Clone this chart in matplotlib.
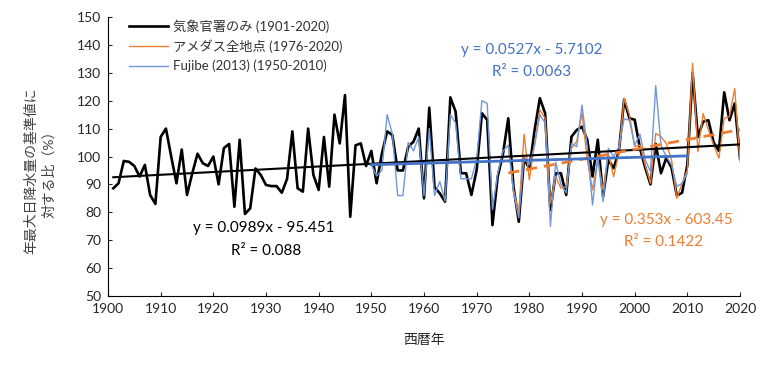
import numpy as np
import matplotlib
matplotlib.use("Agg")
import matplotlib.pyplot as plt

plt.rcParams['font.family'] = ['Lato', 'Noto Sans CJK JP', 'DejaVu Sans']

# 気象官署のみ (1901-2020)
years_jma = np.arange(1901, 2021)
jma = [88.6, 90.4, 98.4, 98.1, 96.6, 92.8, 97, 86.2, 83, 107,
       110, 100, 90.4, 102.5, 86.2, 94, 101, 97.6, 96.6, 100,
       90, 103, 104.5, 82, 106, 79.4, 81.4, 95.7, 93.4, 89.8,
       89.4, 89.4, 87, 92, 109, 88.6, 87.4, 110, 93.4, 88,
       107, 89.2, 115, 104.7, 122, 78.4, 104, 104.7, 96.6, 102,
       90.4, 101, 109, 107.7, 95, 95, 103.5, 105.3, 110, 85,
       117.5, 89, 86.8, 83.8, 121.2, 116.1, 94, 94, 86.2, 95.2,
       115.5, 113.1, 75.4, 92.8, 101, 113.7, 89, 76.6, 99.4, 95.5,
       109.5, 120.9, 115.5, 80.8, 94, 94, 86.2, 107.1, 109.5, 110.7,
       106, 92.8, 106, 85.6, 98.8, 95.8, 101.7, 120.4, 113.7, 113.2,
       103, 96, 90, 104.5, 94, 99.5, 96, 86, 87, 97,
       130, 107, 112.5, 113, 105, 102, 123, 113, 119, 99.4]

# アメダス全地点 (1976-2020)
years_amedas = np.arange(1976, 2021)
amedas = [104, 88, 80, 108, 91.6, 104.7, 116.7, 113.7, 83.2, 92.8,
          88.6, 89.2, 103, 105.4, 115.5, 98.8, 88, 98.8, 88, 101.1,
          92.8, 101.1, 120.9, 115, 103.6, 104.1, 96.9, 90.4, 108.3, 107.1,
          104.7, 98.8, 85, 90.4, 95.2, 133.4, 101.7, 115.4, 109.5, 104.1,
          99.4, 113.7, 114.3, 124.4, 98.2]

# Fujibe (2013) (1950-2010)
years_fujibe = np.arange(1950, 2011)
fujibe = [97, 93, 95, 115, 108, 86, 86, 105, 102, 107,
          86, 110, 86, 91, 84, 115, 112, 92, 92, 92,
          99, 120, 119, 81, 94, 102, 104, 87, 78, 100,
          97, 104, 115, 112, 75, 98, 90, 87, 104.7, 103.5,
          118.4, 103.5, 82.6, 99.9, 83.8, 102.9, 99.9, 103.5, 113.5, 113,
          104, 108, 98.8, 94.6, 125.4, 104, 100, 97, 89.2, 90.4,
          94]

# trend line coefficients (slope, intercept) as shown on the chart
trend_jma = (0.0989, -95.451)
trend_amedas = (0.353, -603.45)
trend_fujibe = (0.0527, -5.7102)

c_black = '#000000'
c_orange = '#ED7D31'
c_blue = '#4472C4'
c_blue_light = '#6F97DA'

fig = plt.figure(figsize=(7.68, 3.67), dpi=100)
ax = fig.add_axes([108 / 768, 1 - 296 / 367, 632 / 768, 279 / 367])

ax.plot(years_jma, jma, color=c_black, lw=1.9, label='気象官署のみ (1901-2020)', zorder=3)
ax.plot(years_amedas, amedas, color=c_orange, lw=1.0, label='アメダス全地点 (1976-2020)', zorder=4)
ax.plot(years_fujibe, fujibe, color=c_blue_light, lw=1.0, label='Fujibe (2013) (1950-2010)', zorder=5)


def trend(x, coef):
    return coef[0] * np.asarray(x) + coef[1]


xj = [years_jma[0], years_jma[-1]]
ax.plot(xj, trend(xj, trend_jma), color=c_black, lw=1.5, zorder=6)
xa = [years_amedas[0], years_amedas[-1]]
ax.plot(xa, trend(xa, trend_amedas), color=c_orange, lw=2.0, ls=(0, (4, 2.5)), zorder=6)
xf = [years_fujibe[0], years_fujibe[-1]]
ax.plot(xf, trend(xf, trend_fujibe), color=c_blue, lw=2.0, zorder=6)

ax.set_xlim(1900, 2020)
ax.set_ylim(50, 150)
ax.set_xticks(np.arange(1900, 2021, 10))
ax.set_yticks(np.arange(50, 151, 10))
ax.tick_params(direction='in', length=3, labelsize=10, colors='#262626', pad=5)
ax.spines['top'].set_visible(False)
ax.spines['right'].set_visible(False)
ax.spines['left'].set_color('#000000')
ax.spines['bottom'].set_color('#000000')

ax.set_xlabel('西暦年', fontsize=10, color='#262626', labelpad=13)
fig.text(0.040, 0.535, '年最大日降水量の基準値に', rotation=90, ha='center', va='center',
         fontsize=10, color='#404040')
fig.text(0.063, 0.535, '対する比（%）', rotation=90, ha='center', va='center',
         fontsize=10, color='#404040')

leg = ax.legend(loc='upper left', bbox_to_anchor=(0.02, 1.02), frameon=False, fontsize=9.5,
                handlelength=3.0, handletextpad=0.4, labelspacing=0.5, borderaxespad=0.2)
for t in leg.get_texts():
    t.set_color('#333333')

ax.text(1980.5, 138.2, 'y = 0.0527x - 5.7102', color=c_blue, fontsize=11, ha='center', va='center')
ax.text(1980.5, 130.2, 'R² = 0.0063', color=c_blue, fontsize=11, ha='center', va='center')
ax.text(1929.6, 74.2, 'y = 0.0989x - 95.451', color='#000000', fontsize=11, ha='center', va='center')
ax.text(1930, 66, 'R² = 0.088', color='#000000', fontsize=11, ha='center', va='center')
ax.text(2006, 77.2, 'y = 0.353x - 603.45', color=c_orange, fontsize=11, ha='center', va='center')
ax.text(2005.5, 69.4, 'R² = 0.1422', color=c_orange, fontsize=11, ha='center', va='center')

fig.savefig('out.png', dpi=100)
